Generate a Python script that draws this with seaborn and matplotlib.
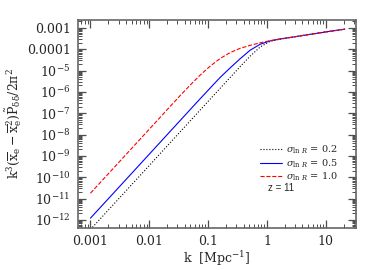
import numpy as np
import pandas as pd
import matplotlib
matplotlib.use('Agg')
import matplotlib.pyplot as plt
import matplotlib.ticker as mticker
import seaborn as sns

# wavenumbers k [Mpc^-1]
k = [0.001, 0.003, 0.01, 0.0225, 0.0333, 0.0492, 0.0728, 0.1076, 0.159, 0.236,
     0.349, 0.516, 0.763, 1.13, 1.67, 2.5, 4.0, 6.5, 10.0, 15.0, 21.0]

# log10 of k^3 (x_e - x_e^2) P_dd / 2pi^2 for the three sigma_lnR values
logp_sig02 = [-12.45, -11.02, -9.45, -8.39, -7.88, -7.37, -6.86, -6.35, -5.84, -5.33,
              -4.82, -4.33, -3.90, -3.63, -3.53, -3.45, -3.36, -3.27, -3.19, -3.12, -3.06]
logp_sig05 = [-11.92, -10.49, -8.92, -7.86, -7.35, -6.84, -6.33, -5.83, -5.33, -4.88,
              -4.45, -4.05, -3.77, -3.61, -3.52, -3.45, -3.36, -3.27, -3.19, -3.12, -3.06]
logp_sig10 = [-10.75, -9.32, -7.75, -6.69, -6.18, -5.69, -5.22, -4.80, -4.44, -4.16,
              -3.96, -3.82, -3.70, -3.60, -3.52, -3.45, -3.36, -3.27, -3.19, -3.12, -3.06]

sigma_labels = ['0.2', '0.5', '1.0']
redshift = 11

sns.set_theme(style='ticks')
plt.rcParams['font.family'] = ['DejaVu Serif']
plt.rcParams['mathtext.fontset'] = 'dejavuserif'

fig = plt.figure(figsize=(3.9, 2.7), dpi=100)
ax = fig.add_axes([0.199, 0.156, 0.714, 0.770])

series = [(logp_sig02, 'black', ':'), (logp_sig05, '#0000ff', '-'), (logp_sig10, '#ff0000', '--')]
for (vals, col, ls), lab in zip(series, sigma_labels):
    df = pd.DataFrame({'k': k, 'p': np.power(10.0, vals)})
    sns.lineplot(data=df, x='k', y='p', ax=ax, color=col, linestyle=ls, lw=0.8,
                 label=r'$\sigma_{\ln\,R}$ = ' + lab, sort=False)

ax.set_xscale('log')
ax.set_yscale('log')
ax.set_xlim(6.05e-4, 32.7)
ax.set_ylim(10**-12.375, 10**-2.63)

ax.xaxis.set_major_locator(mticker.LogLocator(base=10, numticks=20))
ax.xaxis.set_minor_locator(mticker.LogLocator(base=10, subs=np.arange(2, 10), numticks=20))
ax.yaxis.set_major_locator(mticker.LogLocator(base=10, numticks=20))
ax.yaxis.set_minor_locator(mticker.LogLocator(base=10, subs=np.arange(2, 10), numticks=20))


def xfmt(v, pos):
    return '%g' % v


def yfmt(v, pos):
    e = int(round(np.log10(v)))
    if e == -3:
        return '0.001'
    if e == -4:
        return '0.0001'
    return r'$10^{%d}$' % e


ax.xaxis.set_major_formatter(mticker.FuncFormatter(xfmt))
ax.yaxis.set_major_formatter(mticker.FuncFormatter(yfmt))
ax.xaxis.set_minor_formatter(mticker.NullFormatter())
ax.yaxis.set_minor_formatter(mticker.NullFormatter())

ax.tick_params(which='both', direction='in', top=True, right=True, color='0.3',
               labelsize=9, pad=5)
ax.tick_params(which='major', length=6, width=0.9)
ax.tick_params(which='minor', length=3, width=0.7)
for sp in ax.spines.values():
    sp.set_color('0.4')
    sp.set_linewidth(1.2)

ax.set_xlabel(r'k  [Mpc$^{-1}$]', fontsize=9, labelpad=1)
ax.set_ylabel(r'$\mathrm{k^3(\overline{x}_e-\overline{x}_e^2)\tilde{P}_{\delta\delta}/2\pi^2}$',
              fontsize=9, labelpad=2)

ax.legend(loc='upper left', bbox_to_anchor=(0.655, 0.405), frameon=False,
          fontsize=7, handlelength=2.3, handletextpad=0.4, labelspacing=0.1,
          borderaxespad=0, borderpad=0)
ax.text(0.684, 0.192, 'z = %d' % redshift, transform=ax.transAxes,
        fontsize=7, ha='left', va='center', family='Liberation Sans')

fig.savefig('out.png', dpi=100)
